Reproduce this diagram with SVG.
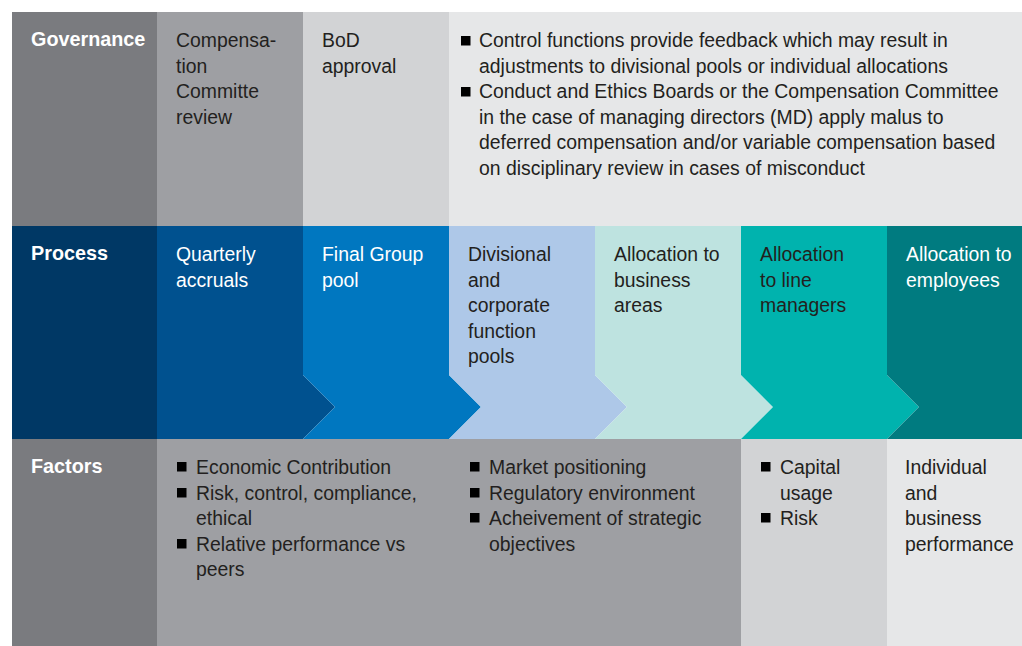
<svg xmlns="http://www.w3.org/2000/svg" width="1022" height="646" viewBox="0 0 1022 646">
  <style>
    text { font-family: "Liberation Sans", Arial, sans-serif; font-size: 19.4px; }
    .hd { font-weight: bold; fill: #ffffff; font-size: 19.8px; }
    .dk { fill: #231f20; }
    .wt { fill: #ffffff; }
    .blt { fill: #000000; }
  </style>
  <defs>
    <rect id="sq" width="9.5" height="9.5"/>
  </defs>
  <rect x="0" y="0" width="1022" height="646" fill="#ffffff"/>

  <!-- Governance row -->
  <g id="governance-label">
    <rect x="12" y="12" width="145" height="214" fill="#7a7b7f"/>
    <text class="hd" x="31" y="46">Governance</text>
  </g>
  <g id="comp-committee-review">
    <rect x="157" y="12" width="146" height="214" fill="#9e9fa3"/>
    <text class="dk" x="176" y="47">Compensa-</text>
    <text class="dk" x="176" y="72.5">tion</text>
    <text class="dk" x="176" y="98">Committe</text>
    <text class="dk" x="176" y="124">review</text>
  </g>
  <g id="bod-approval">
    <rect x="303" y="12" width="146" height="214" fill="#d2d3d5"/>
    <text class="dk" x="322" y="47">BoD</text>
    <text class="dk" x="322" y="72.5">approval</text>
  </g>
  <g id="control-feedback">
    <rect x="449" y="12" width="573" height="214" fill="#e6e7e8"/>
    <use href="#sq" class="blt" x="461" y="36"/>
    <text class="dk" x="479" y="47">Control functions provide feedback which may result in</text>
    <text class="dk" x="479" y="72.5">adjustments to divisional pools or individual allocations</text>
    <use href="#sq" class="blt" x="461" y="87"/>
    <text class="dk" x="479" y="98">Conduct and Ethics Boards or the Compensation Committee</text>
    <text class="dk" x="479" y="124">in the case of managing directors (MD) apply malus to</text>
    <text class="dk" x="479" y="149">deferred compensation and/or variable compensation based</text>
    <text class="dk" x="479" y="175">on disciplinary review in cases of misconduct</text>
  </g>

  <!-- Process row: chevron steps -->
  <g id="process-label">
    <rect x="12" y="226" width="145" height="213" fill="#003865"/>
    <text class="hd" x="31" y="260">Process</text>
  </g>
  <g id="step-quarterly-accruals">
    <polygon points="157,226 303,226 303,375 335,407 303,439 157,439" fill="#00518f"/>
    <text class="wt" x="176" y="261">Quarterly</text>
    <text class="wt" x="176" y="286.5">accruals</text>
  </g>
  <g id="step-final-group-pool">
    <polygon points="303,226 449,226 449,375 481,407 449,439 303,439 335,407 303,375" fill="#0077c0"/>
    <text class="wt" x="322" y="261">Final Group</text>
    <text class="wt" x="322" y="286.5">pool</text>
  </g>
  <g id="step-divisional-pools">
    <polygon points="449,226 595,226 595,375 627,407 595,439 449,439 481,407 449,375" fill="#aec8e8"/>
    <text class="dk" x="468" y="261">Divisional</text>
    <text class="dk" x="468" y="286.5">and</text>
    <text class="dk" x="468" y="312">corporate</text>
    <text class="dk" x="468" y="338">function</text>
    <text class="dk" x="468" y="363">pools</text>
  </g>
  <g id="step-business-areas">
    <polygon points="595,226 741,226 741,375 773,407 741,439 595,439 627,407 595,375" fill="#bee3e0"/>
    <text class="dk" x="614" y="261">Allocation to</text>
    <text class="dk" x="614" y="286.5">business</text>
    <text class="dk" x="614" y="312">areas</text>
  </g>
  <g id="step-line-managers">
    <polygon points="741,226 887,226 887,375 919,407 887,439 741,439 773,407 741,375" fill="#00b3ae"/>
    <text class="dk" x="760" y="261">Allocation</text>
    <text class="dk" x="760" y="286.5">to line</text>
    <text class="dk" x="760" y="312">managers</text>
  </g>
  <g id="step-employees">
    <polygon points="887,226 1022,226 1022,439 887,439 919,407 887,375" fill="#007b80"/>
    <text class="wt" x="906" y="261">Allocation to</text>
    <text class="wt" x="906" y="286.5">employees</text>
  </g>

  <!-- Factors row -->
  <g id="factors-label">
    <rect x="12" y="439" width="145" height="207" fill="#7a7b7f"/>
    <text class="hd" x="31" y="473">Factors</text>
  </g>
  <g id="factors-group">
    <rect x="157" y="439" width="584" height="207" fill="#9e9fa3"/>
    <use href="#sq" class="blt" x="177" y="462"/>
    <text class="dk" x="196" y="474">Economic Contribution</text>
    <use href="#sq" class="blt" x="177" y="488"/>
    <text class="dk" x="196" y="500">Risk, control, compliance,</text>
    <text class="dk" x="196" y="525">ethical</text>
    <use href="#sq" class="blt" x="177" y="539"/>
    <text class="dk" x="196" y="551">Relative performance vs</text>
    <text class="dk" x="196" y="576">peers</text>
    <use href="#sq" class="blt" x="470" y="462"/>
    <text class="dk" x="489" y="474">Market positioning</text>
    <use href="#sq" class="blt" x="470" y="488"/>
    <text class="dk" x="489" y="500">Regulatory environment</text>
    <use href="#sq" class="blt" x="470" y="513"/>
    <text class="dk" x="489" y="525">Acheivement of strategic</text>
    <text class="dk" x="489" y="551">objectives</text>
  </g>
  <g id="factors-line-managers">
    <rect x="741" y="439" width="146" height="207" fill="#d2d3d5"/>
    <use href="#sq" class="blt" x="761" y="462"/>
    <text class="dk" x="780" y="474">Capital</text>
    <text class="dk" x="780" y="500">usage</text>
    <use href="#sq" class="blt" x="761" y="513"/>
    <text class="dk" x="780" y="525">Risk</text>
  </g>
  <g id="factors-employees">
    <rect x="887" y="439" width="135" height="207" fill="#e6e7e8"/>
    <text class="dk" x="905" y="474">Individual</text>
    <text class="dk" x="905" y="500">and</text>
    <text class="dk" x="905" y="525">business</text>
    <text class="dk" x="905" y="551">performance</text>
  </g>

  <!-- connectors: the flow is carried by the chevron shapes above -->
  <g id="connectors"></g>
</svg>
